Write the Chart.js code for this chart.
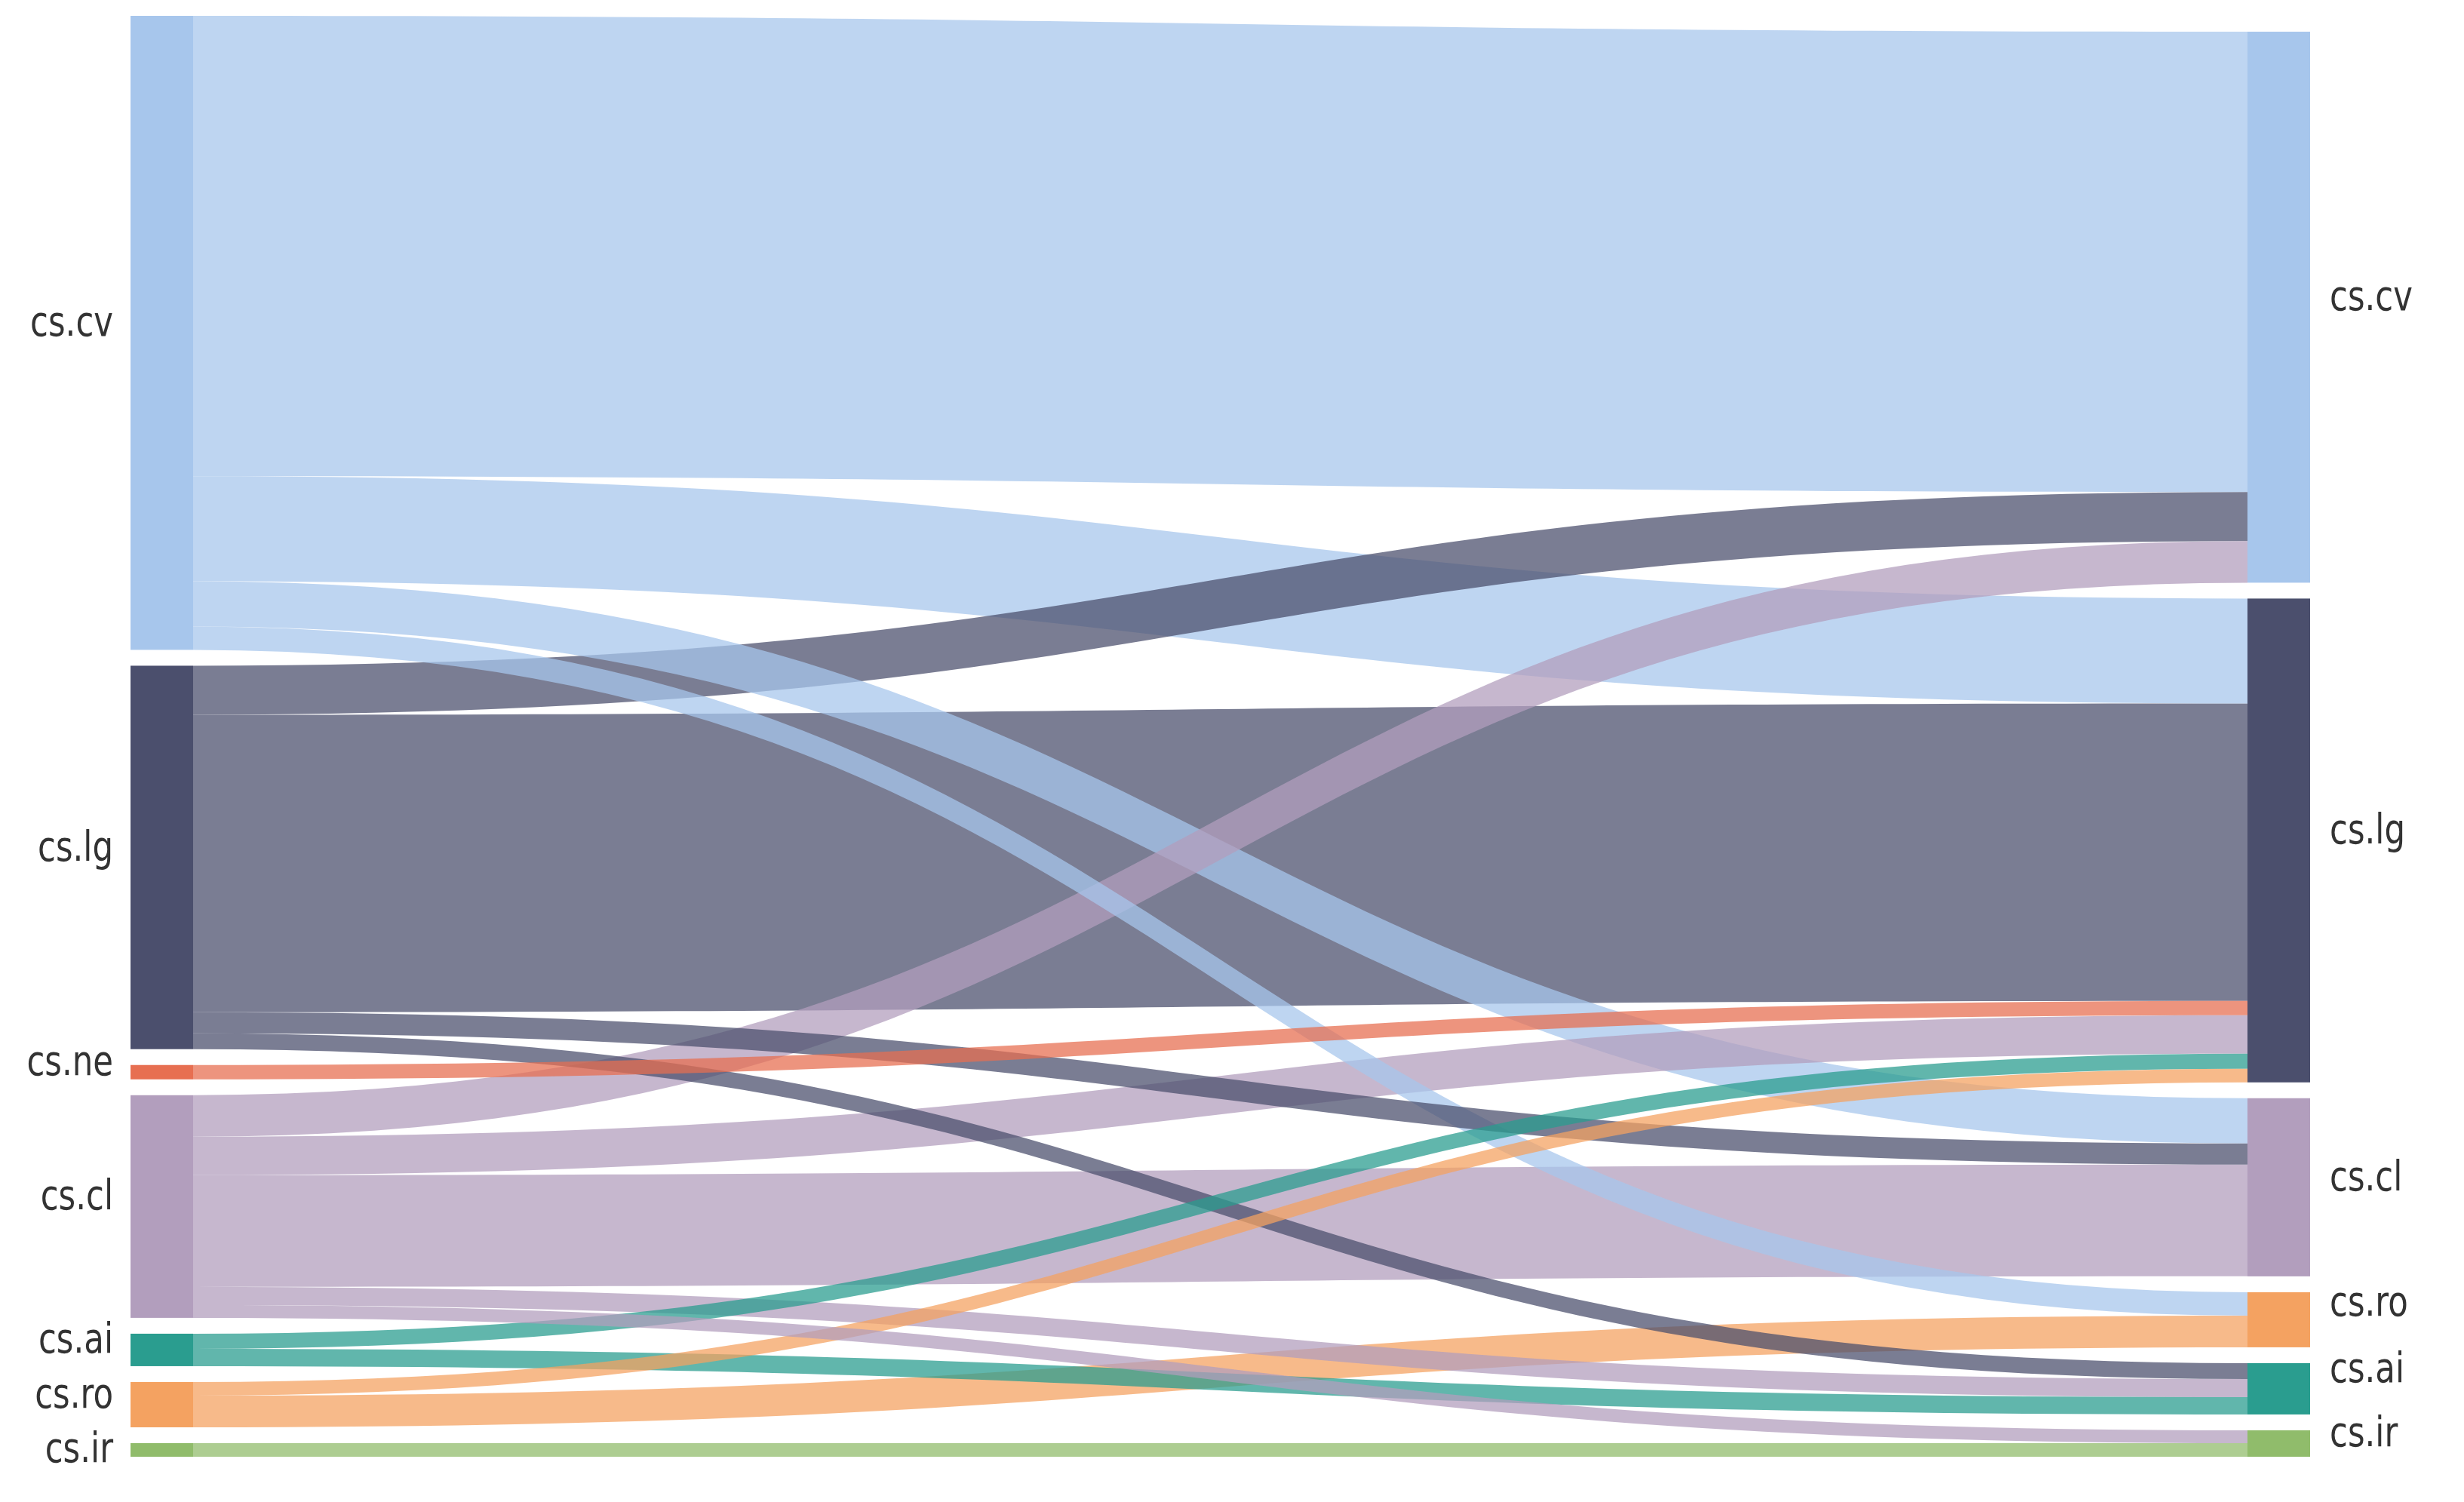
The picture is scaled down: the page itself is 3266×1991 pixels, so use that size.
<!DOCTYPE html>
<html>
<head>
<meta charset="utf-8">
<script src="https://cdn.jsdelivr.net/npm/chart.js@4.4.1/dist/chart.umd.min.js"></script>
<style>
  html, body { margin: 0; padding: 0; background: #fff; }
  #wrap { width: 3266px; height: 1991px; }
</style>
</head>
<body>
<div id="wrap"><canvas id="sankey"></canvas></div>
<script>
// categories (both columns share names and colours)
const categories = ['cs.cv', 'cs.lg', 'cs.ne', 'cs.cl', 'cs.ai', 'cs.ro', 'cs.ir'];
const categoryColors = ['#a7c6ec', '#4b4f6d', '#e76f51', '#b29ebd', '#2a9d8f', '#f4a261', '#90bc6b'];

// node order in each column, top to bottom
const leftNodes = ['cs.cv', 'cs.lg', 'cs.ne', 'cs.cl', 'cs.ai', 'cs.ro', 'cs.ir'];
const rightNodes = ['cs.cv', 'cs.lg', 'cs.cl', 'cs.ro', 'cs.ai', 'cs.ir'];

// flows
const flowFrom = ['cs.cv', 'cs.cv', 'cs.cv', 'cs.cv',
                  'cs.lg', 'cs.lg', 'cs.lg', 'cs.lg',
                  'cs.ne',
                  'cs.cl', 'cs.cl', 'cs.cl', 'cs.cl', 'cs.cl',
                  'cs.ai', 'cs.ai',
                  'cs.ro', 'cs.ro',
                  'cs.ir'];
const flowTo = ['cs.cv', 'cs.lg', 'cs.cl', 'cs.ro',
                'cs.cv', 'cs.lg', 'cs.cl', 'cs.ai',
                'cs.lg',
                'cs.cv', 'cs.lg', 'cs.cl', 'cs.ai', 'cs.ir',
                'cs.lg', 'cs.ai',
                'cs.lg', 'cs.ro',
                'cs.ir'];
const flowValue = [610, 139, 60, 31,
                   65, 394, 28, 21,
                   19,
                   55, 51, 148, 24, 17,
                   20, 23,
                   18, 42,
                   18];

const nodeGap = 21;

function sumFor(list, key) {
  let s = 0;
  list.forEach((k, i) => { if (k === key) s += flowValue[i]; });
  return s;
}

const leftTotal = leftNodes.reduce((a, n) => a + sumFor(flowFrom, n), 0) + nodeGap * (leftNodes.length - 1);

function colorOf(name, alpha) {
  const hex = categoryColors[categories.indexOf(name)];
  const r = parseInt(hex.slice(1, 3), 16);
  const g = parseInt(hex.slice(3, 5), 16);
  const b = parseInt(hex.slice(5, 7), 16);
  return 'rgba(' + r + ',' + g + ',' + b + ',' + alpha + ')';
}

const sankeyPlugin = {
  id: 'sankey',
  afterDatasetsDraw(chart, args, opts) {
    const { ctx } = chart;
    const x = chart.scales.x;
    const y = chart.scales.y;
    const nw = opts.nodeWidth;

    // left column from the top
    const leftStart = {};
    let pos = 0;
    leftNodes.forEach(n => {
      leftStart[n] = pos;
      pos += sumFor(flowFrom, n) + nodeGap;
    });
    // right column aligned to the bottom
    const rightHeight = rightNodes.reduce((a, n) => a + sumFor(flowTo, n), 0) + nodeGap * (rightNodes.length - 1);
    const rightStart = {};
    pos = leftTotal - rightHeight;
    rightNodes.forEach(n => {
      rightStart[n] = pos;
      pos += sumFor(flowTo, n) + nodeGap;
    });

    // offsets of each flow inside its nodes
    const idx = flowValue.map((v, i) => i);
    const srcOff = [], dstOff = [];
    leftNodes.forEach(n => {
      let o = leftStart[n];
      idx.filter(i => flowFrom[i] === n)
        .sort((a, b) => rightNodes.indexOf(flowTo[a]) - rightNodes.indexOf(flowTo[b]))
        .forEach(i => { srcOff[i] = o; o += flowValue[i]; });
    });
    rightNodes.forEach(n => {
      let o = rightStart[n];
      idx.filter(i => flowTo[i] === n)
        .sort((a, b) => leftNodes.indexOf(flowFrom[a]) - leftNodes.indexOf(flowFrom[b]))
        .forEach(i => { dstOff[i] = o; o += flowValue[i]; });
    });

    const x0 = x.getPixelForValue(nw);
    const x1 = x.getPixelForValue(1 - nw);
    const xm = (x0 + x1) / 2;

    ctx.save();
    // flows, biggest first so thin ones sit on top
    idx.slice().sort((a, b) => flowValue[b] - flowValue[a]).forEach(i => {
      const s0 = y.getPixelForValue(srcOff[i]);
      const s1 = y.getPixelForValue(srcOff[i] + flowValue[i]);
      const t0 = y.getPixelForValue(dstOff[i]);
      const t1 = y.getPixelForValue(dstOff[i] + flowValue[i]);
      ctx.beginPath();
      ctx.moveTo(x0, s0);
      ctx.bezierCurveTo(xm, s0, xm, t0, x1, t0);
      ctx.lineTo(x1, t1);
      ctx.bezierCurveTo(xm, t1, xm, s1, x0, s1);
      ctx.closePath();
      ctx.fillStyle = colorOf(flowFrom[i], opts.flowAlpha);
      ctx.fill();
    });

    // nodes
    leftNodes.forEach(n => {
      const top = y.getPixelForValue(leftStart[n]);
      const bot = y.getPixelForValue(leftStart[n] + sumFor(flowFrom, n));
      ctx.fillStyle = colorOf(n, 1);
      ctx.fillRect(x.getPixelForValue(0), top, x0 - x.getPixelForValue(0), bot - top);
    });
    rightNodes.forEach(n => {
      const top = y.getPixelForValue(rightStart[n]);
      const bot = y.getPixelForValue(rightStart[n] + sumFor(flowTo, n));
      ctx.fillStyle = colorOf(n, 1);
      ctx.fillRect(x1, top, x.getPixelForValue(1) - x1, bot - top);
    });

    // labels (narrowed horizontally to mimic a condensed face)
    ctx.font = opts.font;
    ctx.fillStyle = opts.labelColor;
    ctx.textBaseline = 'alphabetic';
    const sx = opts.labelSqueeze;
    function label(text, px, py, align) {
      ctx.save();
      ctx.translate(px, py);
      ctx.scale(sx, 1);
      ctx.textAlign = align;
      ctx.fillText(text, 0, 0);
      ctx.restore();
    }
    leftNodes.forEach(n => {
      const mid = y.getPixelForValue(leftStart[n] + sumFor(flowFrom, n) / 2);
      const shift = opts.labelShift.left[n] || 0;
      label(n, x.getPixelForValue(0) - opts.labelPad, mid + opts.baselineDrop + shift, 'right');
    });
    rightNodes.forEach(n => {
      const mid = y.getPixelForValue(rightStart[n] + sumFor(flowTo, n) / 2);
      const shift = opts.labelShift.right[n] || 0;
      label(n, x.getPixelForValue(1) + opts.labelPad + 3, mid + opts.baselineDrop + shift, 'left');
    });
    ctx.restore();
  }
};

new Chart(document.getElementById('sankey'), {
  type: 'scatter',
  data: { datasets: [{ data: [] }] },
  options: {
    responsive: true,
    maintainAspectRatio: false,
    animation: false,
    layout: { padding: { left: 173, right: 204, top: 21, bottom: 60 } },
    scales: {
      x: { type: 'linear', min: 0, max: 1, display: false },
      y: { type: 'linear', min: 0, max: leftTotal, reverse: true, display: false }
    },
    plugins: {
      legend: { display: false },
      tooltip: { enabled: false },
      sankey: {
        nodeWidth: 83 / 2889,
        flowAlpha: 0.74,
        font: '55px "DejaVu Sans", sans-serif',
        labelSqueeze: 0.79,
        labelColor: '#333333',
        labelPad: 23,
        baselineDrop: 4,
        labelShift: { left: { 'cs.ir': 12 }, right: { 'cs.ro': -9, 'cs.ai': -13 } }
      }
    }
  },
  plugins: [sankeyPlugin]
});
</script>
</body>
</html>
